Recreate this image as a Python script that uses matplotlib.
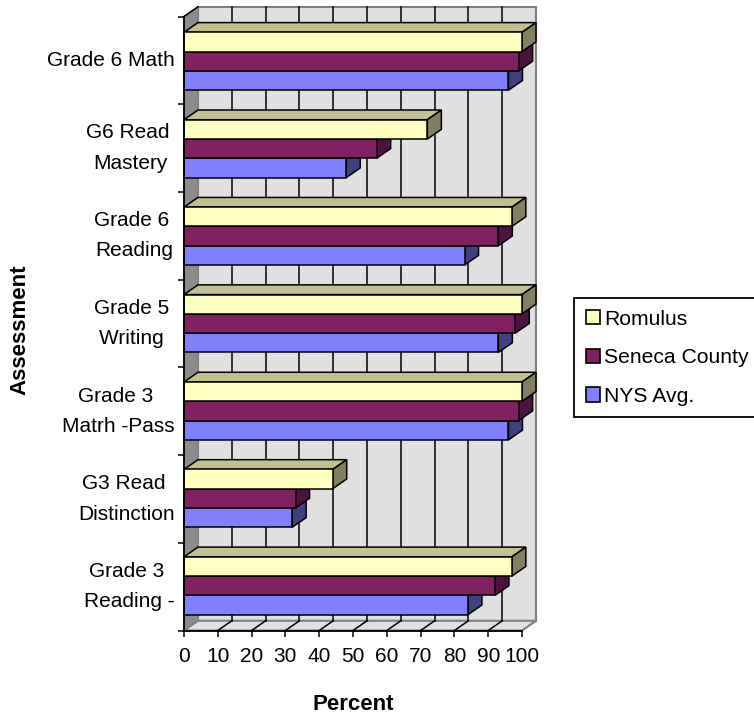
import matplotlib
matplotlib.use('Agg')
import matplotlib.pyplot as plt
from matplotlib.patches import Polygon, Patch

plt.rcParams['font.family'] = ['Liberation Sans', 'DejaVu Sans']

# bottom to top, same order as the chart axis
assessments = ['Grade 3 \nReading -', 'G3 Read \nDistinction', 'Grade 3 \nMatrh -Pass',
               'Grade 5 \nWriting ', 'Grade 6 \nReading', 'G6 Read \nMastery', 'Grade 6 Math']
romulus = [97, 44, 100, 100, 97, 72, 100]
seneca = [92, 33, 99, 98, 93, 57, 99]
nys_avg = [84, 32, 96, 93, 83, 48, 96]
x_ticks = [0, 10, 20, 30, 40, 50, 60, 70, 80, 90, 100]
series_names = ['Romulus', 'Seneca County', 'NYS Avg.']

W, H = 754, 719
DX = 14 / 3.38   # depth of the fake 3d in data units
DY = 9.7 / 87.7
BAR_H = 0.22
PITCH = 0.9966   # groups sit a bit tighter than the ticks
LW = 1.1
GREY = '#808080'


def poly(ax, pts, face, edge='black', lw=LW, z=2):
    ax.add_patch(Polygon(pts, closed=True, facecolor=face, edgecolor=edge, linewidth=lw,
                         zorder=z, clip_on=False, joinstyle='miter'))


def bar3d(ax, y, val, h, front, top, side, z):
    poly(ax, [(0, y + h), (DX, y + h + DY), (val + DX, y + h + DY), (val, y + h)], top, z=z)
    poly(ax, [(val, y), (val + DX, y + DY), (val + DX, y + h + DY), (val, y + h)], side, z=z)
    poly(ax, [(0, y), (val, y), (val, y + h), (0, y + h)], front, z=z)


fig = plt.figure(figsize=(W / 100, H / 100), dpi=100)
ax = fig.add_axes([184 / W, 1 - 630.5 / H, 338 / W, 614 / H])
ax.set_xlim(0, 100)
ax.set_ylim(0, 7)
n = len(assessments)

# walls and floor
poly(ax, [(DX, DY), (100 + DX, DY), (100 + DX, n + DY), (DX, n + DY)], '#E0E0E0', edge=GREY, lw=1.5, z=0)
poly(ax, [(0, 0), (DX, DY), (DX, n + DY), (0, n)], '#8C8C8C', edge=GREY, lw=1, z=0.5)
poly(ax, [(0, 0), (100, 0), (100 + DX, DY), (DX, DY)], '#E0E0E0', edge=GREY, lw=1.5, z=0.5)

# grid on the back wall and floor
for t in x_ticks[1:-1]:
    ax.plot([t + DX, t + DX], [DY, n + DY], color='black', lw=LW, zorder=1, clip_on=False)
    ax.plot([t, t + DX], [0, DY], color='black', lw=LW, zorder=1, clip_on=False)
ax.plot([0, DX], [n, n + DY], color='black', lw=LW, zorder=1, clip_on=False)

# lower bar first so the one above covers its top face
for i in range(n):
    y = n / 2 + (i - 3) * PITCH - 1.5 * BAR_H
    bar3d(ax, y, nys_avg[i], BAR_H, '#8080FF', '#C0C0FF', '#404080', 3 + i * 0.1)
    bar3d(ax, y + BAR_H, seneca[i], BAR_H, '#802060', '#C090B0', '#4D1340', 3.01 + i * 0.1)
    bar3d(ax, y + 2 * BAR_H, romulus[i], BAR_H, '#FFFFC0', '#C0C090', '#808060', 3.02 + i * 0.1)

for s in ['top', 'right']:
    ax.spines[s].set_visible(False)
for s in ['left', 'bottom']:
    ax.spines[s].set_linewidth(1.3)
    ax.spines[s].set_zorder(5)

ax.set_xticks(x_ticks)
ax.tick_params(axis='x', length=4.5, width=LW, labelsize=15, pad=7.5)
ax.set_yticks(range(n + 1))
ax.set_yticklabels([''] * (n + 1))
ax.tick_params(axis='y', which='major', length=4.5, width=LW)
ax.set_yticks([i + 0.5 for i in range(n)], minor=True)
ax.set_yticklabels(assessments, minor=True, fontsize=15, ma='center', linespacing=1.75, va='center')
ax.tick_params(axis='y', which='minor', length=0, pad=6.5)

fig.text(353 / W, 1 - 704 / H, 'Percent', fontsize=16, fontweight='bold', ha='center', va='center')
fig.text(19.5 / W, 1 - 330 / H, 'Assessment', fontsize=16, fontweight='bold', rotation=90, ha='center', va='center')

handles = [Patch(facecolor='#FFFFC0', edgecolor='black', linewidth=1.2),
           Patch(facecolor='#802060', edgecolor='black', linewidth=1.2),
           Patch(facecolor='#8080FF', edgecolor='black', linewidth=1.2)]
leg = fig.legend(handles, series_names, loc='upper left',
                 bbox_to_anchor=(574 / W, 1 - 298 / H), bbox_transform=fig.transFigure,
                 fontsize=15.2, fancybox=False, framealpha=1, edgecolor='black',
                 handlelength=0.66, handleheight=0.66, handletextpad=0.2,
                 labelspacing=0.93, borderpad=0.55, borderaxespad=0)
leg.get_frame().set_linewidth(1.3)

fig.savefig('out.png', dpi=100)
